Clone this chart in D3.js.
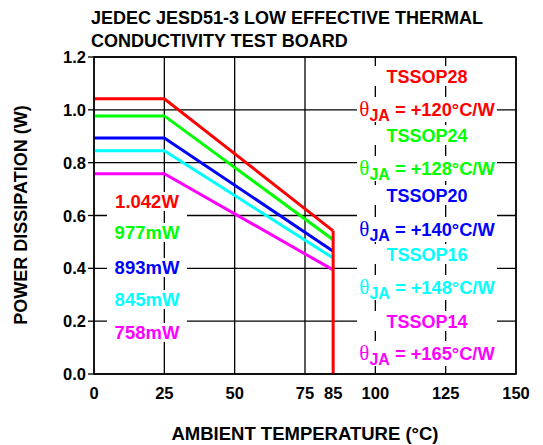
<!DOCTYPE html>
<html><head><meta charset="utf-8">
<script src="https://cdn.jsdelivr.net/npm/d3@7"></script>
<style>
html,body{margin:0;padding:0;background:#fff;}
svg text{font-family:"Liberation Sans",Arial,sans-serif;font-weight:bold;}
</style></head>
<body><svg id="c" width="543" height="445"></svg>
<script>
// ---- data ----
const packages = ["TSSOP28","TSSOP24","TSSOP20","TSSOP16","TSSOP14"];
const thetaJA = [120,128,140,148,165];
const powerLabels = ["1.042W","977mW","893mW","845mW","758mW"];
const colors = ["#ff0000","#00ff00","#0000ff","#00ffff","#ff00ff"];
const tempPoints = [0,25,85];
const powerAt0 = [1.042,0.977,0.893,0.845,0.758];
const powerAt25 = [1.042,0.977,0.893,0.845,0.758];
const powerAt85 = [0.542,0.508,0.465,0.439,0.394];
const xTicks = [0,25,50,75,85,100,125,150];
const xGrid = [0,25,50,75,100,125,150];
const yTicks = [0,0.2,0.4,0.6,0.8,1.0,1.2];
const titleLines = ["JEDEC JESD51-3 LOW EFFECTIVE THERMAL","CONDUCTIVITY TEST BOARD"];

const svg = d3.select("#c");
const x = d3.scaleLinear().domain([0,150]).range([94,516]);
const y = d3.scaleLinear().domain([0,1.2]).range([374,57]);

// title
svg.selectAll("text.title").data(titleLines).join("text")
  .attr("x",91).attr("y",(d,i)=>24+i*22.5).attr("font-size",18).text(d=>d);

// horizontal grid
svg.append("g").selectAll("line").data(yTicks).join("line")
  .attr("x1",x(0)).attr("x2",x(150)).attr("y1",d=>y(d)).attr("y2",d=>y(d))
  .attr("stroke","#000").attr("stroke-width",1.3);

// white label columns (hide horizontal grid)
svg.append("rect").attr("x",107).attr("y",190).attr("width",80).attr("height",155).attr("fill","#fff");
svg.append("rect").attr("x",357).attr("y",66).attr("width",140).attr("height",300).attr("fill","#fff");

// vertical grid
svg.append("g").selectAll("line").data(xGrid).join("line")
  .attr("x1",d=>x(d)).attr("x2",d=>x(d)).attr("y1",y(0)).attr("y2",y(1.2))
  .attr("stroke","#000").attr("stroke-width",1.3);

// y tick marks
svg.append("g").selectAll("line").data(yTicks).join("line")
  .attr("x1",x(0)-6).attr("x2",x(0)).attr("y1",d=>y(d)).attr("y2",d=>y(d))
  .attr("stroke","#000").attr("stroke-width",1.3);

// tick labels
svg.append("g").selectAll("text").data(yTicks).join("text")
  .attr("x",86).attr("y",d=>y(d)+6).attr("text-anchor","end").attr("font-size",16.5)
  .text(d=>d.toFixed(1));
svg.append("g").selectAll("text").data(xTicks).join("text")
  .attr("x",d=>x(d)).attr("y",399).attr("text-anchor","middle").attr("font-size",16.5)
  .text(d=>d);

// axis titles
svg.append("text").attr("x",305).attr("y",440).attr("text-anchor","middle").attr("font-size",18.5)
  .text("AMBIENT TEMPERATURE (°C)");
svg.append("text").attr("transform","translate(27,215) rotate(-90)").attr("text-anchor","middle")
  .attr("font-size",18).text("POWER DISSIPATION (W)");

// curves
const line = d3.line().x(d=>x(d[0])).y(d=>y(d[1]));
packages.forEach((p,i)=>{
  const pts = [[tempPoints[0],powerAt0[i]],[tempPoints[1],powerAt25[i]],[tempPoints[2],powerAt85[i]]];
  svg.append("path").attr("d",line(pts)).attr("fill","none").attr("stroke",colors[i])
    .attr("stroke-width",3).attr("stroke-linejoin","miter");
});
// red drop to zero
svg.append("path").attr("d",line([[85,powerAt85[0]],[85,0]])).attr("fill","none")
  .attr("stroke",colors[0]).attr("stroke-width",3);

// left labels
const leftY = [208,239,274,306,339];
const lg = svg.append("g");
powerLabels.forEach((t,i)=>{
  lg.append("rect").attr("x",107).attr("y",leftY[i]-16).attr("width",80).attr("height",19).attr("fill","#fff");
  lg.append("text").attr("x",147).attr("y",leftY[i]).attr("text-anchor","middle")
    .attr("font-size",18.5).attr("fill",colors[i]).text(t);
});

// right labels
const pkgY = [83,142,202,261,328];
const thY = [116,175,236,294,360];
const rg = svg.append("g");
packages.forEach((p,i)=>{
  rg.append("rect").attr("x",357).attr("y",pkgY[i]-17).attr("width",140).attr("height",20).attr("fill","#fff");
  rg.append("text").attr("x",427).attr("y",pkgY[i]).attr("text-anchor","middle")
    .attr("font-size",18).attr("fill",colors[i]).text(p);
  rg.append("rect").attr("x",357).attr("y",thY[i]-19).attr("width",140).attr("height",25).attr("fill","#fff");
  const t = rg.append("text").attr("x",427).attr("y",thY[i]).attr("text-anchor","middle")
    .attr("font-size",18.3).attr("fill",colors[i]);
  t.append("tspan").attr("font-family","'Liberation Serif','Times New Roman',serif").attr("font-weight","normal")
    .attr("font-size",21).text("θ");
  t.append("tspan").attr("dy",5).attr("font-size",16).text("JA");
  t.append("tspan").attr("dy",-5).text(" = +" + thetaJA[i] + "°C/W");
});

// border
svg.append("rect").attr("x",x(0)).attr("y",y(1.2)).attr("width",x(150)-x(0)).attr("height",y(0)-y(1.2))
  .attr("fill","none").attr("stroke","#000").attr("stroke-width",1.5);
</script></body></html>
